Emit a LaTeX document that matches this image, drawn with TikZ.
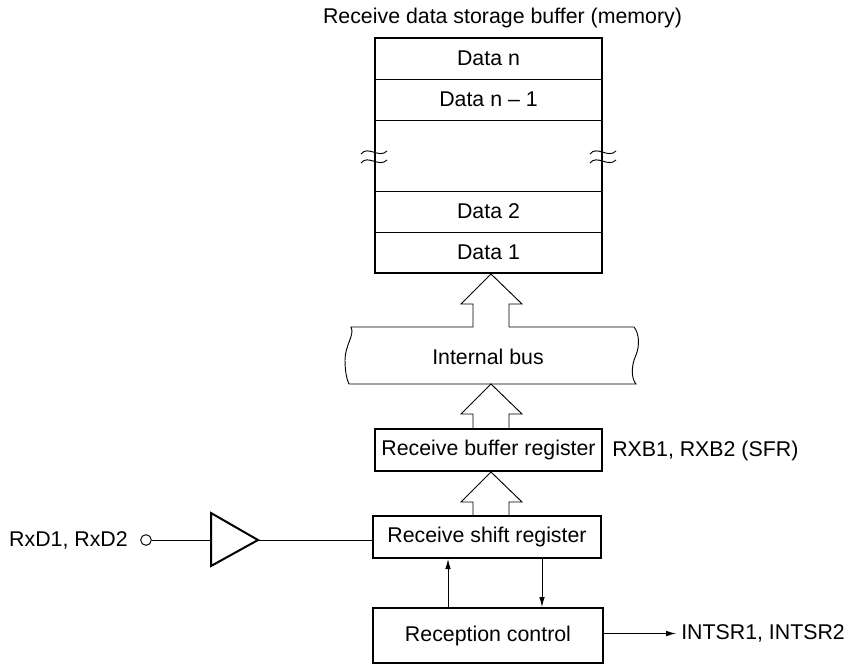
\documentclass[tikz,border=0pt]{standalone}
\usepackage{fontspec}
\setmainfont{Liberation Sans}
\usetikzlibrary{calc,arrows.meta}

% hollow bus arrow: #1 tip, #2 foot of the shaft
\newcommand{\busarrow}[2]{%
	\draw [thinline] ($(#2)+(-18,0)$) -- ($(#1)+(-18,30)$) -- ($(#1)+(-30,30)$) -- (#1) -- ($(#1)+(31,30)$) -- ($(#1)+(18,30)$) -- ($(#2)+(18,0)$);}
% break mark on a side of the buffer
\newcommand{\breakmark}[1]{%
	\draw [thinline] ($(#1)+(-13,-3)$) .. controls ($(#1)+(-6,-12)$) and ($(#1)+(5,2)$) .. ($(#1)+(13,-6)$);
	\draw [thinline] ($(#1)+(-13,6)$) .. controls ($(#1)+(-6,-3)$) and ($(#1)+(5,11)$) .. ($(#1)+(13,3)$);}

\tikzset{
	thinline/.style={line width=0.7pt},
	thickline/.style={line width=1.5pt},
	lbl/.style={inner sep=0pt, font=\fontsize{16}{19}\selectfont},
	regbox/.style={draw, thickline, inner sep=0pt, font=\fontsize{16}{19}\selectfont},
	sig/.style={thinline, -{Latex[length=7.5pt,width=4.2pt]}}
}

\begin{document}
\begin{tikzpicture}[x=0.75pt,y=0.75pt,yscale=-1,xscale=1]
	\useasboundingbox (0,0) rectangle (848,665);
	%Buffer memory
	\node [lbl] (title) at (502.5,18) {Receive data storage buffer (memory)};
	\node [regbox, minimum width=170.25pt, minimum height=176.25pt] (mem) at (488.5,155.5) {};
	\draw [thinline] (mem.west |- 0,79) -- (mem.east |- 0,79);
	\draw [thinline] (mem.west |- 0,120) -- (mem.east |- 0,120);
	\draw [thinline] (mem.west |- 0,191) -- (mem.east |- 0,191);
	\draw [thinline] (mem.west |- 0,232) -- (mem.east |- 0,232);
	\node [lbl] (datan) at (488.5,58.5) {Data n};
	\node [lbl] (datan1) at (488.5,99.5) {Data n -- 1};
	\node [lbl] (data2) at (488.5,211.5) {Data 2};
	\node [lbl] (data1) at (488.5,252.5) {Data 1};
	\breakmark{mem.west |- 0,157}
	\breakmark{mem.east |- 0,157}
	
	%Internal bus
	\node [lbl] (bus) at (488,357) {Internal bus};
	\coordinate (ax) at (491,0);
	\coordinate (bustop) at (491,327);
	\coordinate (busbot) at (491,384);
	\draw [thinline] ($(bustop)+(-18,0)$) -- (351,327) .. controls (355,335) and (345,345) .. (345,360) .. controls (345,372) and (347,380) .. (349,384) -- (636,384) .. controls (631,378) and (631,366) .. (636,355) .. controls (640,345) and (639,333) .. (634,327) -- ($(bustop)+(18,0)$);
	\busarrow{ax |- mem.south}{bustop}
	
	%Registers
	\node [regbox, minimum width=170.25pt, minimum height=31.5pt] (buf) at (488.5,450) {Receive buffer register};
	\node [lbl, anchor=west] (rxb) at ($(buf.east)+(9,1)$) {RXB1, RXB2 (SFR)};
	\node [regbox, minimum width=171pt, minimum height=31.5pt] (shift) at (487,537) {Receive shift register};
	\node [regbox, minimum width=172.5pt, minimum height=41.25pt] (ctrl) at (488,635.5) {Reception control};
	\busarrow{busbot}{ax |- buf.north}
	\busarrow{ax |- buf.south}{ax |- shift.north}
	
	%Input pin and buffer amplifier
	\node [lbl, anchor=east] (rxd) at (128,540) {RxD1, RxD2};
	\node [draw, thinline, circle, inner sep=0pt, minimum size=8pt] (pin) at (146,540) {};
	\coordinate (amp) at (211,540);
	\coordinate (ampout) at (258,540);
	\draw [thickline, line join=miter] ($(amp)+(0,-27)$) -- (ampout) -- ($(amp)+(0,26)$) -- cycle;
	\draw [thinline] (pin) -- (amp);
	\draw [thinline] (ampout) -- (ampout -| shift.west);
	
	%Control signals
	\draw [sig] ($(ctrl.north)+(-40,0)$) coordinate (up) -- (up |- shift.south);
	\draw [sig] ($(shift.south)+(55,0)$) coordinate (dn) -- (dn |- ctrl.north);
	\node [lbl, anchor=west, inner sep=3.75pt] (intsr) at ($(ctrl.east)+(72,-2)$) {INTSR1, INTSR2};
	\draw [sig] (ctrl.east |- intsr.west) -- (intsr.west);
\end{tikzpicture}
\end{document}
